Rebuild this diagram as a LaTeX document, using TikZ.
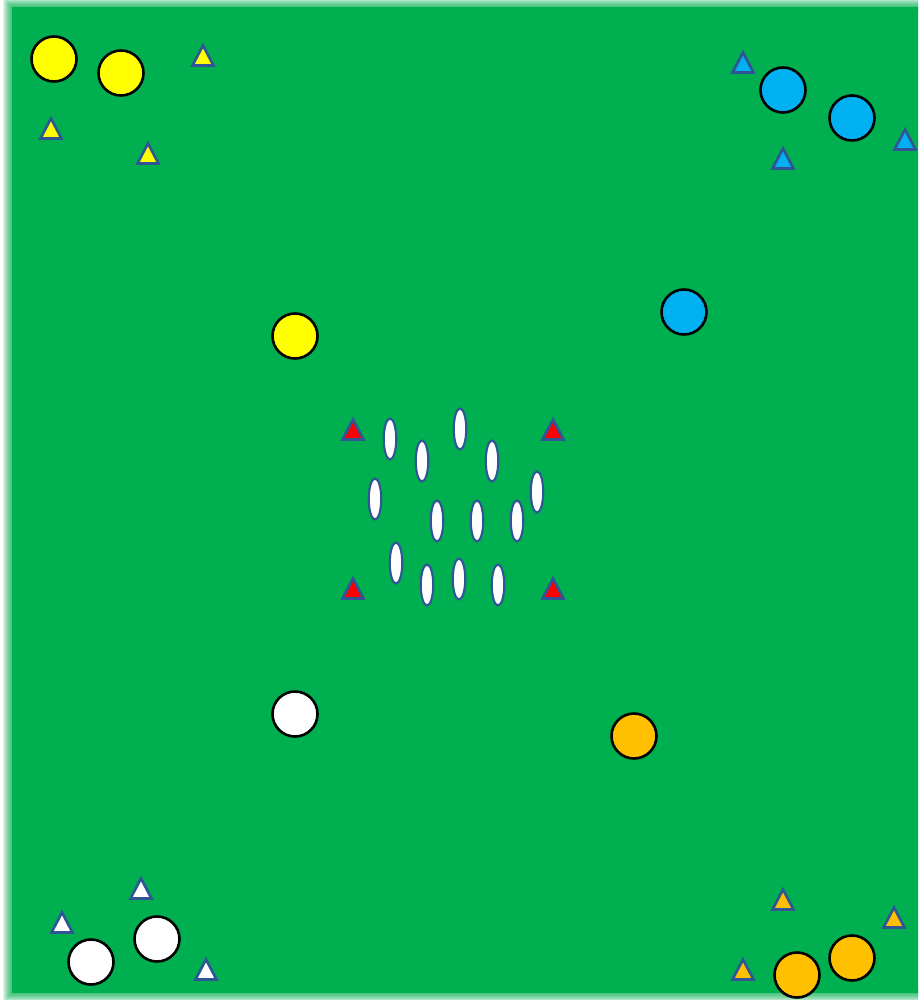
\documentclass[tikz,border=0pt]{standalone}
\definecolor{field}{HTML}{00AF50}
\definecolor{tyellow}{HTML}{FFFF00}
\definecolor{tblue}{HTML}{00B0F0}
\definecolor{torange}{HTML}{FFC000}
\definecolor{tred}{HTML}{FF0000}
\definecolor{edge}{HTML}{2F5597}
\tikzset{
  player/.style={circle, draw=black, line width=2.6pt, minimum size=45pt, inner sep=0pt},
  tri/.style={draw=edge, line width=2.6pt, line join=miter},
  ball/.style={ellipse, draw=edge, fill=white, line width=2.1pt, minimum width=12.5pt, minimum height=41pt, inner sep=0pt},
}
\usetikzlibrary{shapes.geometric}
\newcommand{\cone}[3]{\draw[tri, fill=#3] (#1-10.5,#2+10.5) -- (#1,#2-9.5) -- (#1+10.5,#2+10.5) -- cycle;}
\begin{document}
\begin{tikzpicture}[x=1pt,y=-1pt]
\useasboundingbox (0,0) rectangle (918,1000);
\fill[white] (0,0) rectangle (918,1000);
\begin{scope}
\clip (0,0) rectangle (918,1000);
\foreach \k in {1,...,9}{
  \draw[field, opacity=0.12, line width=2*\k pt] (12,7) rectangle (930,993);
}
\fill[field] (12,7) rectangle (930,993);
\end{scope}
% yellow team
\node[player, fill=tyellow] (y1) at (54,59) {};
\node[player, fill=tyellow] (y2) at (121,73) {};
\node[player, fill=tyellow] (y3) at (295,336) {};
\cone{203}{55}{tyellow}
\cone{51}{128}{tyellow}
\cone{148}{153}{tyellow}
% blue team
\node[player, fill=tblue] (b1) at (783,90) {};
\node[player, fill=tblue] (b2) at (852,118) {};
\node[player, fill=tblue] (b3) at (684,312) {};
\cone{743}{62}{tblue}
\cone{783}{158}{tblue}
\cone{905}{139}{tblue}
% white team
\node[player, fill=white] (w1) at (91,962) {};
\node[player, fill=white] (w2) at (157,939) {};
\node[player, fill=white] (w3) at (295,714) {};
\cone{141}{888}{white}
\cone{62}{922}{white}
\cone{206}{969}{white}
% orange team
\node[player, fill=torange] (o1) at (797,975) {};
\node[player, fill=torange] (o2) at (852,958) {};
\node[player, fill=torange] (o3) at (634,736) {};
\cone{783}{899}{torange}
\cone{894}{917}{torange}
\cone{743}{969}{torange}
% red cones
\cone{353}{429}{tred}
\cone{553}{429}{tred}
\cone{353}{588}{tred}
\cone{553}{588}{tred}
% balls
\node[ball] (e1) at (390,439) {};
\node[ball] (e2) at (422,461) {};
\node[ball] (e3) at (460,429) {};
\node[ball] (e4) at (492,461) {};
\node[ball] (e5) at (375,499) {};
\node[ball] (e6) at (537,492) {};
\node[ball] (e7) at (437,521) {};
\node[ball] (e8) at (477,521) {};
\node[ball] (e9) at (517,521) {};
\node[ball] (e10) at (396,563) {};
\node[ball] (e11) at (427,585) {};
\node[ball] (e12) at (459,579) {};
\node[ball] (e13) at (498,585) {};
\end{tikzpicture}
\end{document}
